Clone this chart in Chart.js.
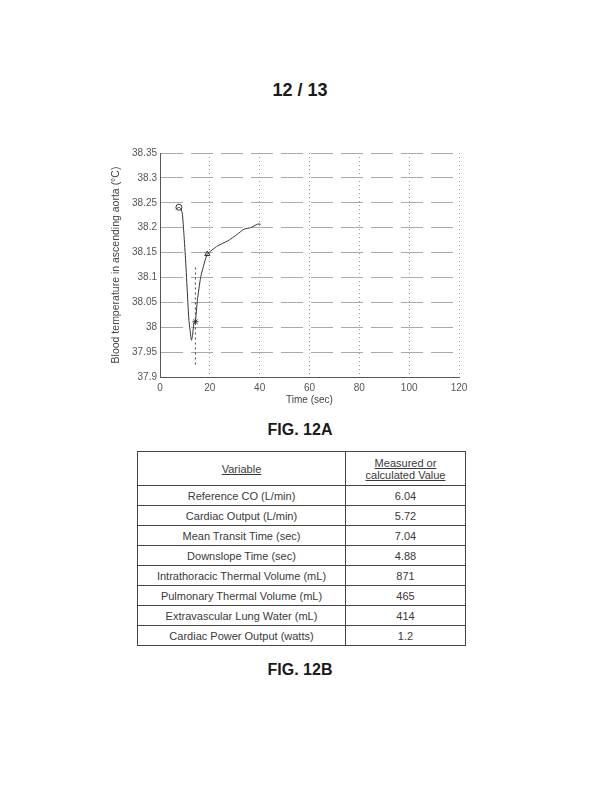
<!DOCTYPE html>
<html>
<head>
<meta charset="utf-8">
<script src="https://cdn.jsdelivr.net/npm/chart.js@4.4.1/dist/chart.umd.min.js"></script>
<style>
  body { margin: 0; background: #fff; font-family: "Liberation Sans", Arial, sans-serif; color: #222; }
  .page { position: relative; width: 600px; height: 800px; }
  .hdr { position: absolute; left: 0; width: 600px; text-align: center; font-weight: bold; color: #1a1a1a; }
  #chartBox { position: absolute; left: 100px; top: 140px; width: 380px; height: 280px; }
  table { position: absolute; left: 137px; top: 451px; width: 329px; border-collapse: collapse; font-size: 11px; color: #3a3a3a; }
  td, th { border: 1px solid #444; text-align: center; font-weight: normal; padding: 0; height: 19px; }
  th { height: 33px; line-height: 12px; }
  th span { text-decoration: underline; }
</style>
</head>
<body>
<div class="page">
  <div class="hdr" style="top:80px;font-size:18px;">12 / 13</div>
  <div id="chartBox"><canvas id="myChart" width="380" height="280"></canvas></div>
  <div class="hdr" style="top:421px;font-size:16px;">FIG. 12A</div>
  <table id="tbl"></table>
  <div class="hdr" style="top:661px;font-size:16px;">FIG. 12B</div>
</div>
<script>
// curve
var timeSec = [6.3, 7.6, 8.4, 9.0, 9.6, 10.3, 11.0, 11.6, 12.6, 13.0, 13.6, 14.2, 15.0, 16.3, 17.7, 19.0, 23.0, 27.1, 31.1, 33.7, 36.4, 39.1, 40.4];
var bloodTemp = [38.237, 38.241, 38.238, 38.227, 38.187, 38.133, 38.067, 38.014, 37.974, 37.981, 38.007, 38.011, 38.054, 38.1, 38.127, 38.147, 38.163, 38.173, 38.187, 38.197, 38.2, 38.207, 38.207];

// marked points on the curve
var markTime = [7.6, 14.2, 19.0];
var markTemp = [38.241, 38.011, 38.147];
var markStyle = ['circle', 'star', 'triangle'];

// vertical dashed marker line
var lineTime = [14.2, 14.2];
var lineTemp = [38.12, 37.92];

var xTicks = [0, 20, 40, 60, 80, 100, 120];
var yTicks = [37.9, 37.95, 38, 38.05, 38.1, 38.15, 38.2, 38.25, 38.3, 38.35];
var yTickLabels = ['37.9', '37.95', '38', '38.05', '38.1', '38.15', '38.2', '38.25', '38.3', '38.35'];

var variables = ['Reference CO (L/min)', 'Cardiac Output (L/min)', 'Mean Transit Time (sec)', 'Downslope Time (sec)',
    'Intrathoracic Thermal Volume (mL)', 'Pulmonary Thermal Volume (mL)', 'Extravascular Lung Water (mL)', 'Cardiac Power Output (watts)'];
var values = ['6.04', '5.72', '7.04', '4.88', '871', '465', '414', '1.2'];

function pts(xs, ys) {
    return xs.map(function (x, i) { return { x: x, y: ys[i] }; });
}

var ctx = document.getElementById("myChart").getContext("2d");
var lineChart = new Chart(ctx, {
    type: "scatter",
    data: {
        datasets: [
            {
                data: pts(timeSec, bloodTemp),
                showLine: true,
                borderColor: '#333',
                borderWidth: 1,
                tension: 0.15,
                pointRadius: 0
            },
            {
                data: pts(lineTime, lineTemp),
                showLine: true,
                borderColor: '#444',
                borderWidth: 1,
                borderDash: [2, 3],
                pointRadius: 0
            },
            {
                data: pts(markTime, markTemp),
                pointStyle: markStyle,
                pointRadius: 3,
                borderColor: '#333',
                backgroundColor: 'rgba(0,0,0,0)',
                borderWidth: 1
            }
        ]
    },
    options: {
        responsive: false,
        animation: false,
        devicePixelRatio: 1,
        layout: { padding: { top: 13, right: 21, left: 0, bottom: 0 } },
        plugins: { legend: { display: false }, tooltip: { enabled: false } },
        scales: {
            x: {
                type: 'linear',
                min: 0, max: 120,
                afterBuildTicks: function (s) { s.ticks = xTicks.map(function (v) { return { value: v }; }); },
                afterFit: function (s) { s.height = 43; },
                ticks: { color: '#555', font: { size: 10, family: 'Liberation Sans' }, padding: 5, maxRotation: 0 },
                grid: { color: '#999', drawTicks: false, lineWidth: 1 },
                border: { color: '#555', dash: [1, 3] },
                title: { display: true, text: 'Time (sec)', color: '#444', font: { size: 10, family: 'Liberation Sans' }, padding: { top: 0, bottom: 14 } }
            },
            y: {
                min: 37.9, max: 38.35,
                afterBuildTicks: function (s) { s.ticks = yTicks.map(function (v) { return { value: v }; }); },
                afterFit: function (s) { s.width = 60; },
                ticks: {
                    color: '#555', font: { size: 10, family: 'Liberation Sans' }, padding: 3,
                    callback: function (v, i) { return yTickLabels[i]; }
                },
                grid: { color: '#aaa', drawTicks: false, lineWidth: 1 },
                border: { color: '#555', dash: [22, 8] },
                title: { display: true, text: 'Blood temperature in ascending aorta (\u00B0C)', color: '#444', font: { size: 10.5, family: 'Liberation Sans' }, padding: { top: 10, bottom: 0 } }
            }
        }
    }
});

// table
var tbl = document.getElementById("tbl");
var html = '<tr><th style="width:207px"><span>Variable</span></th><th><span>Measured or<br>calculated Value</span></th></tr>';
for (var i = 0; i < variables.length; i++) {
    html += '<tr><td>' + variables[i] + '</td><td>' + values[i] + '</td></tr>';
}
tbl.innerHTML = html;
</script>
</body>
</html>
